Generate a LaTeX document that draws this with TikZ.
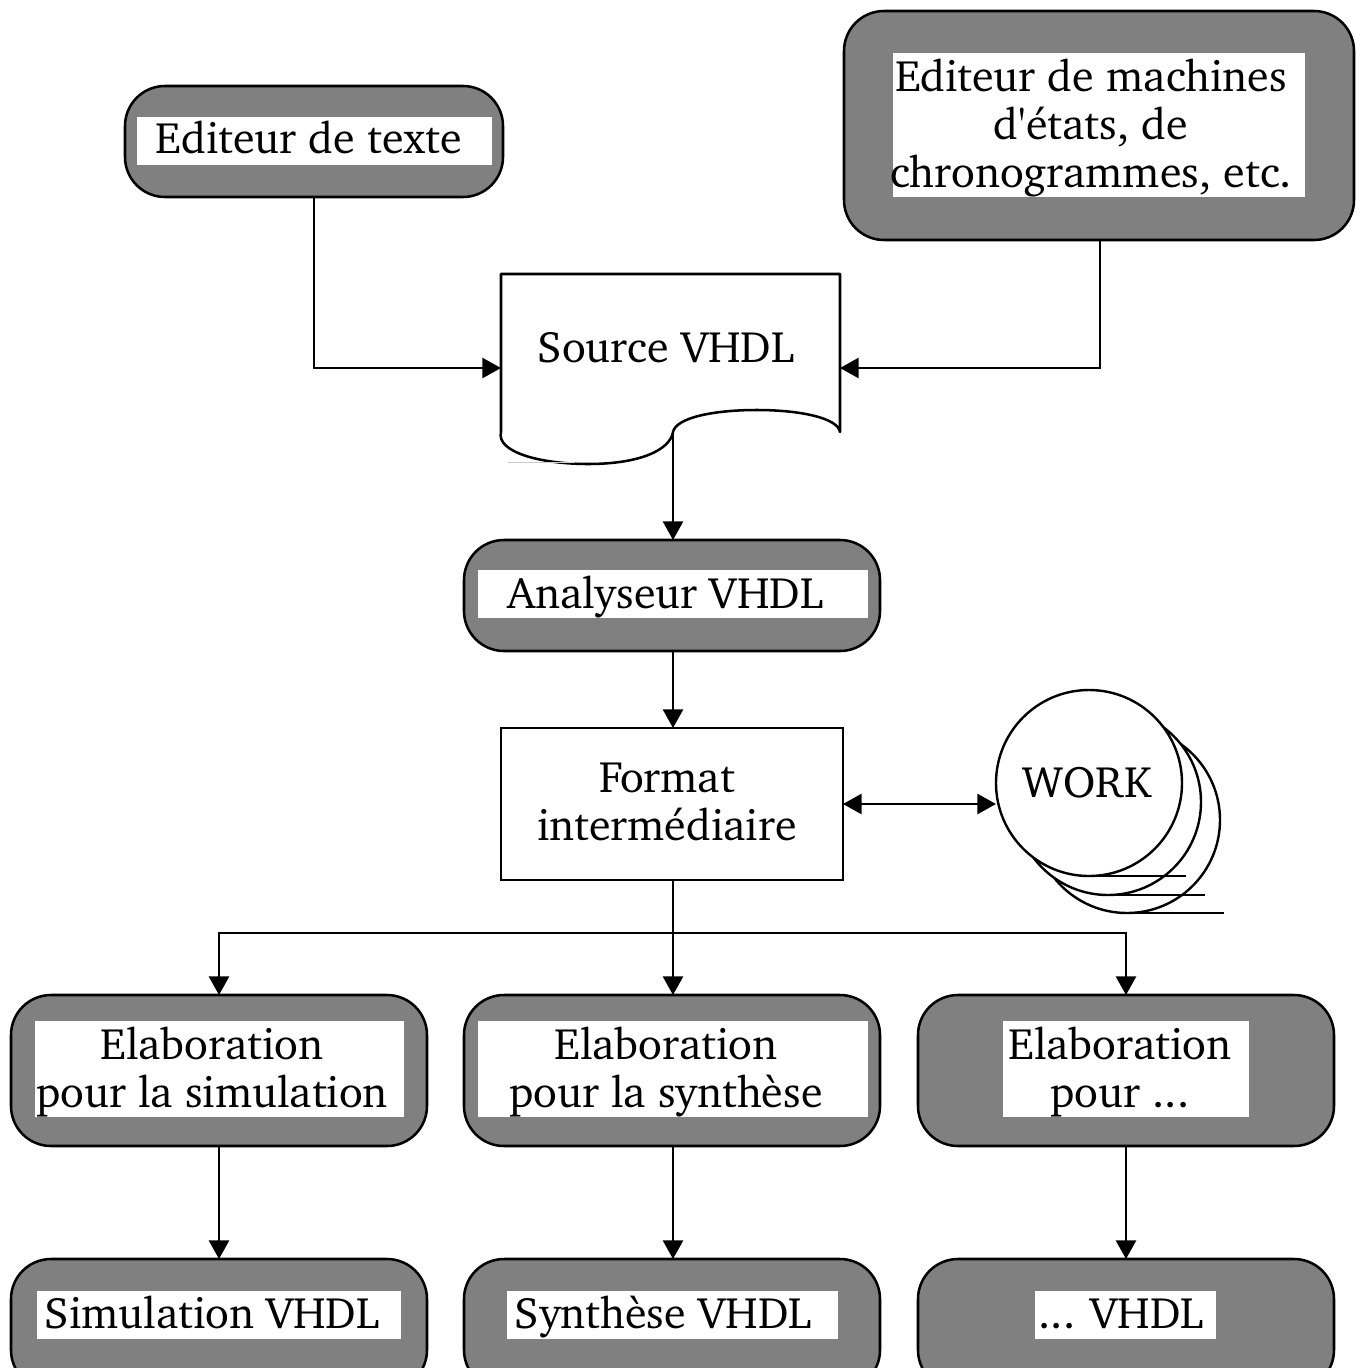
\documentclass[tikz,border=0pt]{standalone}
\usepackage[T1]{fontenc}
\usepackage{textcomp}
\usepackage{charter}
\usetikzlibrary{arrows.meta,fit}
\definecolor{toolgray}{RGB}{128,128,128}

\begin{document}
\begin{tikzpicture}[x=0.75pt,y=-0.75pt,
  txt/.style={font=\fontsize{33}{36}\selectfont, inner sep=0pt, outer sep=0pt, align=center, anchor=base},
  toolbox/.style={draw=black, line width=1.9pt, fill=toolgray, rounded corners=30pt, inner sep=0pt, outer sep=0pt},
  label/.style={fill=white, inner sep=0pt, outer sep=0pt},
  plainbox/.style={draw=black, line width=1.9pt, fill=white, inner sep=0pt, outer sep=0pt},
  arr/.style={line width=2.1pt, -{Triangle[length=14pt,width=15pt]}},
  dblarr/.style={line width=2.1pt, {Triangle[length=14pt,width=15pt]}-{Triangle[length=14pt,width=15pt]}},
  disk/.style={draw=black, line width=1.8pt, fill=white, circle, minimum size=139.5pt, inner sep=0pt, outer sep=0pt}]

\useasboundingbox (0,0) rectangle (1356,1368);
\clip (0,0) rectangle (1356,1368);

% --- editors (the base anchor of a multi-line text is its last line) ---
\node[toolbox, fit={(125,86) (503,197)}] (ed1) {};
\node[label, fit={(137,117) (492,165)}] (ed1l) {};
\node[txt] (ed1t) at (309,153) {Editeur de texte};

\node[toolbox, fit={(844,11) (1354,240)}] (ed2) {};
\node[label, fit={(893,53) (1305,197)}] (ed2l) {};
\node[txt, font=\fontsize{33}{36}\selectfont] (ed2t) at (1091,187)
  {Editeur de machines\\d\textquotesingle\'etats, de\\chronogrammes, etc.};

% --- VHDL source document -------------------------------------------
\node[fit={(501,274) (840,432)}, inner sep=0pt, outer sep=0pt] (src) {};
\draw[line width=1.9pt, line join=round]
  (501,432) -- (501,274) -- (840,274) -- (840,432)
  .. controls (838,418) and (800,410) .. (757,410)
  .. controls (712,410) and (676,418) .. (673,432)
  .. controls (670,450) and (640,464) .. (588,464)
  .. controls (540,464) and (496,452) .. (501,432);
\draw[line width=0.6pt, gray!40] (508,462) -- (575,462);
\node[txt] (srct) at (666,362) {Source VHDL};
\coordinate (srcL) at (501,368);
\coordinate (srcR) at (840,368);
\coordinate (srcB) at (673,432);

% --- analyser and intermediate format --------------------------------
\node[toolbox, fit={(464,540) (880,651)}] (ana) {};
\node[label, fit={(478,570) (868,618)}] (anal) {};
\node[txt] (anat) at (665,608) {Analyseur VHDL};

\node[plainbox, fit={(501,728) (843,880)}] (fmt) {};
\node[txt] (fmtt) at (667,840) {Format\\interm\'ediaire};

% --- WORK library (stacked disks) ------------------------------------
\node[disk] (work3) at (1127,820) {};
\node[disk] (work2) at (1108,802) {};
\node[disk] (work) at (1089,783) {};
\node[txt] (workt) at (1087,797) {WORK};
\draw[line width=1.9pt] (1087,876) -- (1186,876);
\draw[line width=1.9pt] (1107,895) -- (1205,895);
\draw[line width=1.9pt] (1124,913) -- (1224,913);

% --- elaboration stage ------------------------------------------------
\node[toolbox, fit={(11,995) (427,1146)}] (elsim) {};
\node[label, fit={(35,1021) (404,1117)}] (elsiml) {};
\node[txt] (elsimt) at (212,1107) {Elaboration\\pour la simulation};

\node[toolbox, fit={(464,995) (880,1146)}] (elsyn) {};
\node[label, fit={(478,1021) (868,1117)}] (elsynl) {};
\node[txt] (elsynt) at (666,1107) {Elaboration\\pour la synth\`ese};

\node[toolbox, fit={(918,995) (1334,1146)}] (eloth) {};
\node[label, fit={(1003,1021) (1249,1117)}] (elothl) {};
\node[txt] (elotht) at (1120,1107) {Elaboration\\pour ...};

% --- tools ---------------------------------------------------------------
\node[toolbox, fit={(11,1259) (427,1390)}] (sim) {};
\node[label, fit={(37,1291) (401,1339)}] (siml) {};
\node[txt] (simt) at (212,1328) {Simulation VHDL};

\node[toolbox, fit={(464,1259) (880,1390)}] (syn) {};
\node[label, fit={(507,1291) (838,1339)}] (synl) {};
\node[txt] (synt) at (663,1328) {Synth\`ese VHDL};

\node[toolbox, fit={(918,1259) (1334,1390)}] (oth) {};
\node[label, fit={(1035,1291) (1216,1339)}] (othl) {};
\node[txt] (otht) at (1121,1328) {... VHDL};

% --- connectors -----------------------------------------------------------
\draw[arr] (ed1.south) |- (srcL);
\draw[arr] (ed2.south -| 1100,0) |- (srcR);
\draw[arr] (srcB) -- (ana.north -| srcB);
\draw[arr] (ana.south -| srcB) -- (fmt.north -| srcB);
\draw[dblarr] (fmt.east) -- (fmt.east -| work.west);
\coordinate (bar) at (673,933);
\draw[arr] (fmt.south -| bar) -- (elsyn.north -| bar);
\draw[arr, line join=miter] (bar) -| (elsim.north);
\draw[arr, line join=miter] (bar) -| (eloth.north);
\draw[arr] (elsim.south) -- (sim.north);
\draw[arr] (elsyn.south -| bar) -- (syn.north -| bar);
\draw[arr] (eloth.south) -- (oth.north);
\end{tikzpicture}
\end{document}
